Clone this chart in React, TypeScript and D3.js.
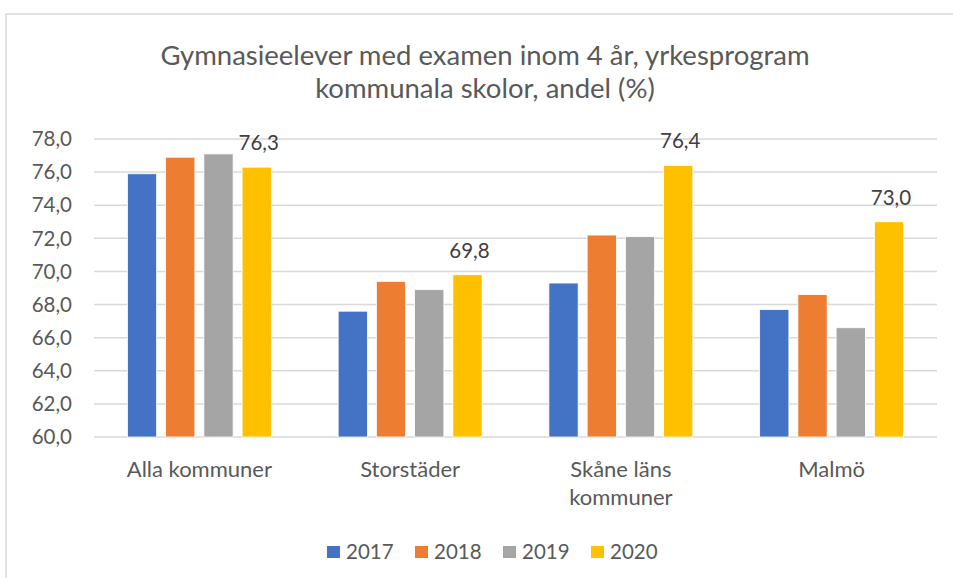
import React from "react";
import * as d3 from "d3";

// chart data
const categories = ["Alla kommuner", "Storstäder", "Skåne läns kommuner", "Malmö"];
const categoryLines = [["Alla kommuner"], ["Storstäder"], ["Skåne läns", "kommuner"], ["Malmö"]];
const years = ["2017", "2018", "2019", "2020"];
const values2017 = [75.9, 67.6, 69.3, 67.7];
const values2018 = [76.9, 69.4, 72.2, 68.6];
const values2019 = [77.1, 68.9, 72.1, 66.6];
const values2020 = [76.3, 69.8, 76.4, 73.0];
const yTicks = [60, 62, 64, 66, 68, 70, 72, 74, 76, 78];
const colors = ["#4472C4", "#ED7D31", "#A5A5A5", "#FFC000"];

const series = [values2017, values2018, values2019, values2020];
const labelledSeries = 3; // only 2020 has data labels

const W = 953;
const H = 578;
const FONT = "Lato, 'Open Sans', sans-serif";
const TEXT = "#595959";

const fmt = (v: number) => d3.format(".1f")(v).replace(".", ",");

export default function App() {
  const y = d3.scaleLinear().domain([60, 78]).range([437, 139]);
  const x0 = d3.scaleBand<string>().domain(categories).range([94, 937]);
  const x1 = d3
    .scaleBand<string>()
    .domain(years)
    .range([33.4, x0.bandwidth() - 33.4])
    .paddingInner(0.235);

  return (
    <svg
      width={W}
      height={H}
      style={{ position: "absolute", left: 0, top: 0, display: "block", background: "#fff" }}
      fontFamily={FONT}
    >
      {/* chart border, runs off right and bottom */}
      <rect x={6} y={14} width={W} height={H} fill="#fff" stroke="#D9D9D9" strokeWidth={1.5} />

      <text x={485} y={55} textAnchor="middle" dy="0.35em" fontSize={27.5} fill={TEXT}>
        Gymnasieelever med examen inom 4 år, yrkesprogram
      </text>
      <text x={485} y={88} textAnchor="middle" dy="0.35em" fontSize={27.5} fill={TEXT}>
        kommunala skolor, andel (%)
      </text>

      {/* gridlines + y ticks */}
      {yTicks.map((t) => (
        <g key={t}>
          <line x1={94} x2={937} y1={y(t)} y2={y(t)} stroke="#D9D9D9" strokeWidth={1.5} />
          <text x={72} y={y(t)} dy="0.35em" textAnchor="end" fontSize={20.5} fill={TEXT}>
            {fmt(t)}
          </text>
        </g>
      ))}

      {/* bars */}
      {categories.map((c, ci) => (
        <g key={c} transform={`translate(${x0(c)},0)`}>
          {years.map((yr, si) => {
            const v = series[si][ci];
            return (
              <rect
                key={yr}
                x={x1(yr)}
                y={y(v)}
                width={x1.bandwidth()}
                height={y(60) - y(v)}
                fill={colors[si]}
                stroke="#fff"
                strokeWidth={0.8}
              />
            );
          })}
          <text
            x={(x1(years[labelledSeries]) ?? 0) + x1.bandwidth() / 2 + 2}
            y={y(series[labelledSeries][ci]) - 17}
            textAnchor="middle"
            fontSize={20.5}
            fill="#404040"
          >
            {fmt(series[labelledSeries][ci])}
          </text>
          {categoryLines[ci].map((line, li) => (
            <text
              key={li}
              x={x0.bandwidth() / 2}
              y={469 + li * 28}
              dy="0.35em"
              textAnchor="middle"
              fontSize={22}
              fill={TEXT}
            >
              {line}
            </text>
          ))}
        </g>
      ))}

      {/* legend */}
      {years.map((yr, i) => (
        <g key={yr} transform={`translate(${327 + i * 88},552)`}>
          <rect x={0} y={-6} width={13} height={12} fill={colors[i]} />
          <text x={19} y={0} dy="0.35em" fontSize={20.5} fill={TEXT}>
            {yr}
          </text>
        </g>
      ))}
    </svg>
  );
}
